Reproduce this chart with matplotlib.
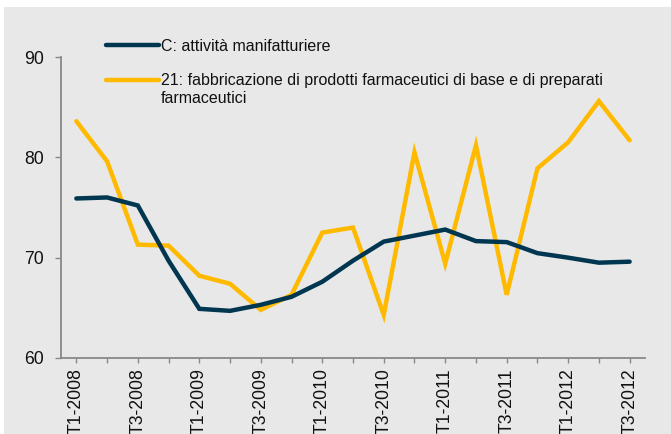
import matplotlib
matplotlib.use("Agg")
import matplotlib.pyplot as plt
from matplotlib.patches import Rectangle
from matplotlib.legend_handler import HandlerLine2D

plt.rcParams['font.family'] = ['Liberation Sans', 'DejaVu Sans']

quarters = ["T1-2008", "T2-2008", "T3-2008", "T4-2008",
            "T1-2009", "T2-2009", "T3-2009", "T4-2009",
            "T1-2010", "T2-2010", "T3-2010", "T4-2010",
            "T1-2011", "T2-2011", "T3-2011", "T4-2011",
            "T1-2012", "T2-2012", "T3-2012"]
manifatturiere = [75.9, 76.0, 75.2, 69.7, 64.9, 64.7, 65.3, 66.1, 67.6, 69.7,
                  71.6, 72.2, 72.8, 71.65, 71.55, 70.45, 70.0, 69.5, 69.6]
farmaceutici = [83.6, 79.6, 71.3, 71.2, 68.2, 67.4, 64.8, 66.3, 72.5, 73.0,
                64.3, 80.5, 69.4, 81.2, 66.3, 78.9, 81.5, 85.6, 81.7]
label_c = "C: attività manifatturiere"
label_21 = "21: fabbricazione di prodotti farmaceutici di base e di preparati\nfarmaceutici"
yticks = [60, 70, 80, 90]

LEG_FS = 11.5


class HandlerFirstLine(HandlerLine2D):
    """Place the legend line next to the first text line of a two-line label."""
    def __init__(self, shift, **kw):
        super().__init__(**kw)
        self.shift = shift

    def create_artists(self, legend, orig_handle, xdescent, ydescent,
                       width, height, fontsize, trans):
        arts = super().create_artists(legend, orig_handle, xdescent, ydescent,
                                      width, height, fontsize, trans)
        for a in arts:
            y = a.get_ydata()
            a.set_ydata([v + self.shift for v in y])
        return arts


W, H = 671, 434
fig = plt.figure(figsize=(W / 100, H / 100), dpi=100, facecolor="white")
bg = "#e8e8e8"
fig.patches.append(Rectangle((4 / W, 0), 1 - 4 / W, 1 - 7 / H,
                             transform=fig.transFigure, facecolor=bg,
                             edgecolor="none", zorder=-10))

ax = fig.add_axes([61 / W, 1 - 358 / H, (645 - 61) / W, (358 - 57) / H])
ax.patch.set_visible(False)

x = list(range(len(quarters)))
l1, = ax.plot(x, manifatturiere, color="#003650", lw=3.2, solid_capstyle="round",
              solid_joinstyle="miter", label=label_c, zorder=3)
l2, = ax.plot(x, farmaceutici, color="#FFBA00", lw=3.2, solid_capstyle="round",
              solid_joinstyle="miter", label=label_21, zorder=2)

ax.set_xlim(-0.5, len(quarters) - 0.5)
ax.set_ylim(60, 90)
ax.set_yticks(yticks)
ax.set_yticklabels([str(v) for v in yticks], fontsize=12.7, color="#111111")
ax.set_xticks(x)
ax.set_xticklabels([q if i % 2 == 0 else "" for i, q in enumerate(quarters)],
                   rotation=90, fontsize=12.7, color="#111111")

for s in ["top", "right"]:
    ax.spines[s].set_visible(False)
for s in ["left", "bottom"]:
    ax.spines[s].set_color("#888888")
    ax.spines[s].set_linewidth(1.3)
ax.tick_params(axis="y", direction="out", length=4.5, width=1.0, color="#888888", pad=8)
ax.tick_params(axis="x", direction="out", length=3.5, width=1.0, color="#888888", pad=4)

leg = ax.legend(handles=[l1, l2], loc="upper left",
                bbox_to_anchor=(106 / W, 1 - 39 / H),
                bbox_transform=fig.transFigure, frameon=False, fontsize=LEG_FS,
                handlelength=3.3, handletextpad=0.12, labelspacing=1.2,
                borderpad=0, borderaxespad=0,
                handler_map={l2: HandlerFirstLine(shift=0.6 * LEG_FS)})
for t in leg.get_texts():
    t.set_color("#111111")

fig.savefig("out.png", dpi=100, facecolor="white")
